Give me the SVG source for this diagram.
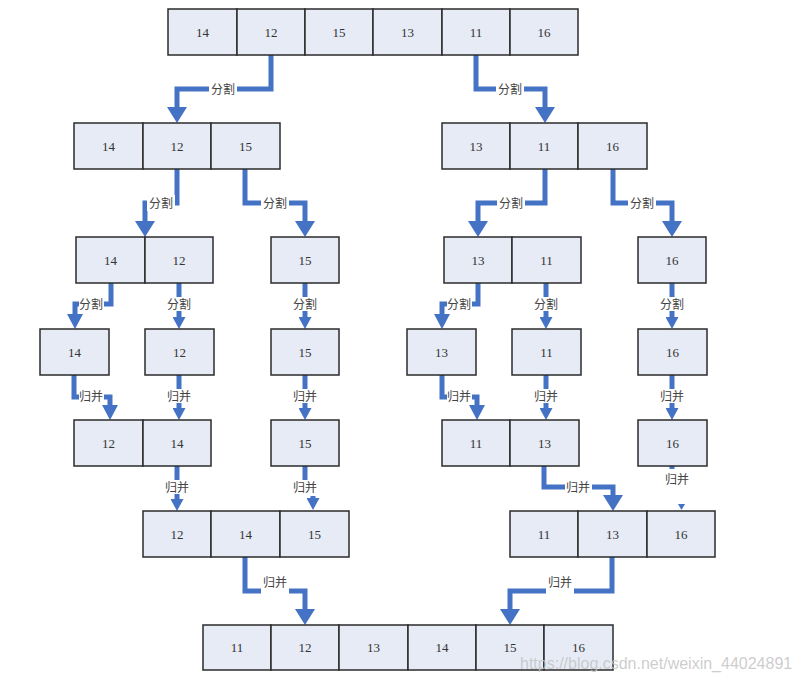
<svg xmlns="http://www.w3.org/2000/svg" width="800" height="683" viewBox="0 0 800 683">
<style>
.c{fill:#E6EBF6;stroke:#2b2b2b;stroke-width:1.5}
.n{font-family:"Liberation Serif",serif;font-size:13px;fill:#333;text-anchor:middle}
.w{fill:none;stroke:#4472C4;stroke-width:5;stroke-linejoin:miter}
.h{fill:#4472C4}
.lb{fill:#fff}
.l{font-family:"Noto Sans CJK SC",sans-serif;font-size:12px;fill:#444;text-anchor:middle}
.wm{font-family:"Liberation Sans",sans-serif;font-size:16px;fill:#c4c4c4;fill-opacity:0.85}
</style>
<defs>
<marker id="big" viewBox="0 0 16 20" refX="0" refY="10" markerWidth="16" markerHeight="20" markerUnits="userSpaceOnUse" orient="auto"><path d="M0,0L16,10L0,20z" fill="#4472C4"/></marker>
<marker id="mid" viewBox="0 0 15 16" refX="0" refY="8" markerWidth="15" markerHeight="16" markerUnits="userSpaceOnUse" orient="auto"><path d="M0,0L15,8L0,16z" fill="#4472C4"/></marker>
<marker id="sm" viewBox="0 0 12 13" refX="0" refY="6.5" markerWidth="12" markerHeight="13" markerUnits="userSpaceOnUse" orient="auto"><path d="M0,0L12,6.5L0,13z" fill="#4472C4"/></marker>
</defs>
<rect width="800" height="683" fill="#fff"/>

<g id="connectors">
<path class="w" d="M271,55V89H177V107" marker-end="url(#big)"/>
<path class="w" d="M476,55V89H545V107" marker-end="url(#big)"/>
<path class="w" d="M177,169V203H145V221" marker-end="url(#big)"/>
<path class="w" d="M245,169V203H305V221" marker-end="url(#big)"/>
<path class="w" d="M545,169V203H478V221" marker-end="url(#big)"/>
<path class="w" d="M613,169V203H672V221" marker-end="url(#big)"/>
<path class="w" d="M111,283V304H75V314" marker-end="url(#mid)"/>
<path class="w" d="M179,283V317" marker-end="url(#sm)"/>
<path class="w" d="M305,283V317" marker-end="url(#sm)"/>
<path class="w" d="M478,283V304H442V314" marker-end="url(#mid)"/>
<path class="w" d="M546,283V317" marker-end="url(#sm)"/>
<path class="w" d="M672,283V317" marker-end="url(#sm)"/>
<path class="w" d="M74,375V397H110V405" marker-end="url(#mid)"/>
<path class="w" d="M179,375V408" marker-end="url(#sm)"/>
<path class="w" d="M305,375V408" marker-end="url(#sm)"/>
<path class="w" d="M442,375V397H477V405" marker-end="url(#mid)"/>
<path class="w" d="M546,375V408" marker-end="url(#sm)"/>
<path class="w" d="M672,375V408" marker-end="url(#sm)"/>
<path class="w" d="M177,466V499" marker-end="url(#sm)"/>
<path class="w" d="M305,466V488H313V498" marker-end="url(#sm)"/>
<path class="w" d="M544,466V487H613V495" marker-end="url(#big)"/>
<path class="w" d="M672,466V469"/>
<path class="h" d="M678,504H685L681.5,510z"/>
<path class="w" d="M245,557V591H305V609" marker-end="url(#big)"/>
<path class="w" d="M612,557V591H510V609" marker-end="url(#big)"/>

<rect class="lb" x="209" y="81" width="28" height="16"/><text class="l" x="223" y="93.5">分割</text>
<rect class="lb" x="496" y="81" width="28" height="16"/><text class="l" x="510" y="93.5">分割</text>
<rect class="lb" x="147" y="195" width="28" height="16"/><text class="l" x="161" y="207.5">分割</text>
<rect class="lb" x="261" y="195" width="28" height="16"/><text class="l" x="275" y="207.5">分割</text>
<rect class="lb" x="497" y="195" width="28" height="16"/><text class="l" x="511" y="207.5">分割</text>
<rect class="lb" x="628" y="195" width="28" height="16"/><text class="l" x="642" y="207.5">分割</text>
<rect class="lb" x="79" y="296" width="25" height="16"/><text class="l" x="91" y="308.5">分割</text>
<rect class="lb" x="166" y="297" width="26" height="14"/><text class="l" x="179" y="308.5">分割</text>
<rect class="lb" x="292" y="297" width="26" height="14"/><text class="l" x="305" y="308.5">分割</text>
<rect class="lb" x="447" y="296" width="25" height="16"/><text class="l" x="459" y="308.5">分割</text>
<rect class="lb" x="533" y="297" width="26" height="14"/><text class="l" x="546" y="308.5">分割</text>
<rect class="lb" x="659" y="297" width="26" height="14"/><text class="l" x="672" y="308.5">分割</text>
<rect class="lb" x="79" y="389" width="25" height="16"/><text class="l" x="91" y="400.5">归并</text>
<rect class="lb" x="166" y="389" width="26" height="14"/><text class="l" x="179" y="400.5">归并</text>
<rect class="lb" x="292" y="389" width="26" height="14"/><text class="l" x="305" y="400.5">归并</text>
<rect class="lb" x="447" y="389" width="25" height="16"/><text class="l" x="459" y="400.5">归并</text>
<rect class="lb" x="533" y="389" width="26" height="14"/><text class="l" x="546" y="400.5">归并</text>
<rect class="lb" x="659" y="389" width="26" height="14"/><text class="l" x="672" y="400.5">归并</text>
<rect class="lb" x="164" y="480" width="26" height="14"/><text class="l" x="177" y="491.5">归并</text>
<rect class="lb" x="292" y="480" width="26" height="16"/><text class="l" x="305" y="491.5">归并</text>
<rect class="lb" x="565" y="479" width="27" height="16"/><text class="l" x="578" y="491.5">归并</text>
<text class="l" x="677" y="484">归并</text>
<rect class="lb" x="261" y="576" width="28" height="18"/><text class="l" x="275" y="587">归并</text>
<rect class="lb" x="546" y="576" width="28" height="18"/><text class="l" x="560" y="587">归并</text>
</g>

<g id="n1">
<rect class="c" x="168" y="9" width="69" height="46"/><rect class="c" x="237" y="9" width="68" height="46"/><rect class="c" x="305" y="9" width="68" height="46"/><rect class="c" x="373" y="9" width="69" height="46"/><rect class="c" x="442" y="9" width="68" height="46"/><rect class="c" x="510" y="9" width="68" height="46"/>
<text class="n" x="202.5" y="36.5">14</text><text class="n" x="271" y="36.5">12</text><text class="n" x="339" y="36.5">15</text><text class="n" x="407.5" y="36.5">13</text><text class="n" x="476" y="36.5">11</text><text class="n" x="544" y="36.5">16</text>
</g>
<g id="n2L">
<rect class="c" x="74" y="123" width="69" height="46"/><rect class="c" x="143" y="123" width="68" height="46"/><rect class="c" x="211" y="123" width="69" height="46"/>
<text class="n" x="108.5" y="150.5">14</text><text class="n" x="177" y="150.5">12</text><text class="n" x="245.5" y="150.5">15</text>
</g>
<g id="n2R">
<rect class="c" x="442" y="123" width="68" height="46"/><rect class="c" x="510" y="123" width="68" height="46"/><rect class="c" x="578" y="123" width="69" height="46"/>
<text class="n" x="476" y="150.5">13</text><text class="n" x="544" y="150.5">11</text><text class="n" x="612.5" y="150.5">16</text>
</g>
<g id="n3a">
<rect class="c" x="76" y="237" width="69" height="46"/><rect class="c" x="145" y="237" width="68" height="46"/>
<text class="n" x="110.5" y="264.5">14</text><text class="n" x="179" y="264.5">12</text>
</g>
<g id="n3b">
<rect class="c" x="271" y="237" width="68" height="46"/>
<text class="n" x="305" y="264.5">15</text>
</g>
<g id="n3c">
<rect class="c" x="444" y="237" width="68" height="46"/><rect class="c" x="512" y="237" width="69" height="46"/>
<text class="n" x="478" y="264.5">13</text><text class="n" x="546.5" y="264.5">11</text>
</g>
<g id="n3d">
<rect class="c" x="638" y="237" width="68" height="46"/>
<text class="n" x="672" y="264.5">16</text>
</g>
<g id="n4a"><rect class="c" x="40" y="329" width="69" height="46"/><text class="n" x="74.5" y="356.5">14</text></g>
<g id="n4b"><rect class="c" x="145" y="329" width="69" height="46"/><text class="n" x="179.5" y="356.5">12</text></g>
<g id="n4c"><rect class="c" x="271" y="329" width="68" height="46"/><text class="n" x="305" y="356.5">15</text></g>
<g id="n4d"><rect class="c" x="407" y="329" width="69" height="46"/><text class="n" x="441.5" y="356.5">13</text></g>
<g id="n4e"><rect class="c" x="512" y="329" width="69" height="46"/><text class="n" x="546.5" y="356.5">11</text></g>
<g id="n4f"><rect class="c" x="638" y="329" width="69" height="46"/><text class="n" x="672.5" y="356.5">16</text></g>
<g id="n5a">
<rect class="c" x="74" y="420" width="69" height="46"/><rect class="c" x="143" y="420" width="68" height="46"/>
<text class="n" x="108.5" y="447.5">12</text><text class="n" x="177" y="447.5">14</text>
</g>
<g id="n5b"><rect class="c" x="271" y="420" width="68" height="46"/><text class="n" x="305" y="447.5">15</text></g>
<g id="n5c">
<rect class="c" x="442" y="420" width="68" height="46"/><rect class="c" x="510" y="420" width="69" height="46"/>
<text class="n" x="476" y="447.5">11</text><text class="n" x="544.5" y="447.5">13</text>
</g>
<g id="n5d"><rect class="c" x="638" y="420" width="69" height="46"/><text class="n" x="672.5" y="447.5">16</text></g>
<g id="n6L">
<rect class="c" x="143" y="511" width="68" height="46"/><rect class="c" x="211" y="511" width="69" height="46"/><rect class="c" x="280" y="511" width="69" height="46"/>
<text class="n" x="177" y="538.5">12</text><text class="n" x="245.5" y="538.5">14</text><text class="n" x="314.5" y="538.5">15</text>
</g>
<g id="n6R">
<rect class="c" x="510" y="511" width="68" height="46"/><rect class="c" x="578" y="511" width="69" height="46"/><rect class="c" x="647" y="511" width="68" height="46"/>
<text class="n" x="544" y="538.5">11</text><text class="n" x="612.5" y="538.5">13</text><text class="n" x="681" y="538.5">16</text>
</g>
<g id="n7">
<rect class="c" x="203" y="625" width="68" height="45"/><rect class="c" x="271" y="625" width="68" height="45"/><rect class="c" x="339" y="625" width="69" height="45"/><rect class="c" x="408" y="625" width="68" height="45"/><rect class="c" x="476" y="625" width="68" height="45"/><rect class="c" x="544" y="625" width="69" height="45"/>
<text class="n" x="237" y="652">11</text><text class="n" x="305" y="652">12</text><text class="n" x="373.5" y="652">13</text><text class="n" x="442" y="652">14</text><text class="n" x="510" y="652">15</text><text class="n" x="578.5" y="652">16</text>
</g>
<text class="wm" x="520" y="669">https://blog.csdn.net/weixin_44024891</text>
</svg>
